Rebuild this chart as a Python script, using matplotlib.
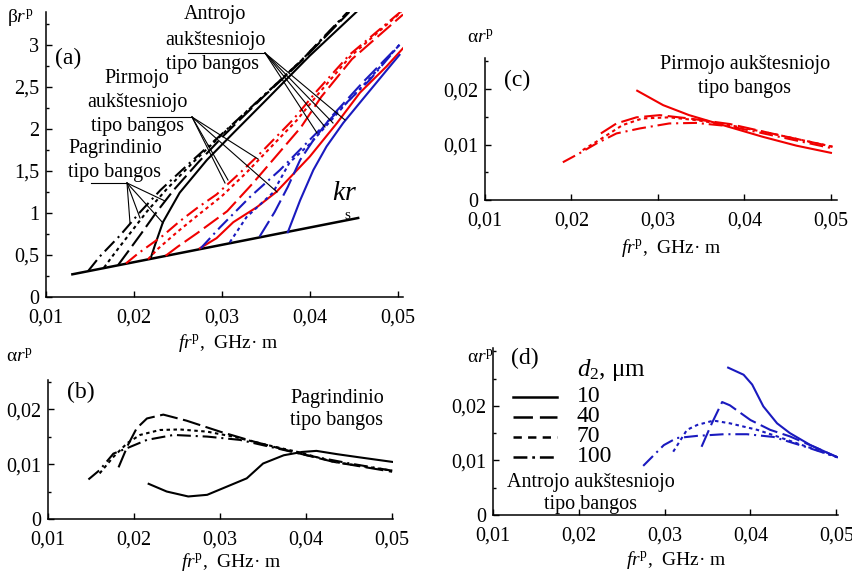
import numpy as np
import matplotlib
matplotlib.use('Agg')
import matplotlib.pyplot as plt
from matplotlib.ticker import FuncFormatter, MultipleLocator, FixedLocator
from matplotlib.lines import Line2D

plt.rcParams.update({
    'font.family': 'Liberation Serif',
    'mathtext.fontset': 'custom',
    'mathtext.rm': 'Liberation Serif',
    'mathtext.it': 'Liberation Serif:italic',
    'font.size': 14,
    'lines.scale_dashes': False,
    'axes.linewidth': 1.1,
})

BLACK = 'black'
RED = '#f00000'
BLUE = '#1a1abf'

# line styles per layer thickness d2 (um)
STYLES = {
    '10': '-',
    '40': (0, (13, 4)),
    '70': (0, (2.5, 2.5)),
    '100': (0, (10, 3.5, 1.5, 3.5)),
}

# ---------------- panel (a): dispersion, beta*r_p vs f*r_p ----------------
kr_x = [0.0130, 0.0455]
kr_y = [0.27, 0.94]

a_black = {
    '10': ([0.0219, 0.0224, 0.0233, 0.0252, 0.0283, 0.0313, 0.0351, 0.0400, 0.0453],
           [0.46, 0.62, 0.89, 1.24, 1.63, 1.95, 2.35, 2.87, 3.39]),
    '40': ([0.0182, 0.0194, 0.0208, 0.0225, 0.0245, 0.0273, 0.0303, 0.0347, 0.0392, 0.0445],
           [0.38, 0.55, 0.75, 1.00, 1.27, 1.60, 1.93, 2.38, 2.82, 3.39]),
    '70': ([0.0166, 0.0178, 0.0195, 0.0215, 0.0237, 0.0268, 0.0300, 0.0345, 0.0390, 0.0444],
           [0.35, 0.52, 0.75, 1.02, 1.28, 1.61, 1.93, 2.37, 2.81, 3.39]),
    '100': ([0.0148, 0.0161, 0.0184, 0.0207, 0.0230, 0.0264, 0.0298, 0.0343, 0.0389, 0.0443],
            [0.31, 0.48, 0.73, 1.01, 1.27, 1.60, 1.92, 2.35, 2.80, 3.39]),
}
a_red = {
    '10': ([0.0275, 0.0294, 0.0313, 0.0340, 0.0362, 0.0400, 0.0431, 0.0457, 0.0487, 0.0507],
           [0.58, 0.70, 0.89, 1.07, 1.25, 1.67, 2.07, 2.43, 2.74, 2.97]),
    '40': ([0.0236, 0.0250, 0.0272, 0.0306, 0.0335, 0.0358, 0.0390, 0.0413, 0.0448, 0.0506],
           [0.49, 0.60, 0.76, 1.02, 1.35, 1.63, 2.02, 2.38, 2.83, 3.36]),
    '70': ([0.0216, 0.0228, 0.0250, 0.0270, 0.0300, 0.0328, 0.0350, 0.0385, 0.0410, 0.0446, 0.0504],
           [0.45, 0.58, 0.78, 0.95, 1.20, 1.48, 1.72, 2.10, 2.42, 2.86, 3.39]),
    '100': ([0.0191, 0.0205, 0.0233, 0.0252, 0.0272, 0.0294, 0.0320, 0.0340, 0.0381, 0.0408, 0.0445, 0.0503],
            [0.40, 0.52, 0.73, 0.90, 1.06, 1.22, 1.47, 1.67, 2.11, 2.45, 2.88, 3.39]),
}
a_blue = {
    '10': ([0.0375, 0.0389, 0.0404, 0.0419, 0.0438, 0.0460, 0.0494, 0.0502],
           [0.77, 1.15, 1.51, 1.79, 2.07, 2.35, 2.78, 2.88]),
    '40': ([0.0343, 0.0360, 0.0375, 0.0389, 0.0405, 0.0425, 0.0460, 0.0502],
           [0.72, 1.01, 1.31, 1.63, 1.88, 2.15, 2.55, 3.00]),
    '70': ([0.0309, 0.0328, 0.0358, 0.0377, 0.0400, 0.0419, 0.0442, 0.0470, 0.0502],
           [0.65, 0.95, 1.24, 1.60, 1.82, 2.04, 2.31, 2.62, 3.00]),
    '100': ([0.0276, 0.0298, 0.0332, 0.0366, 0.0400, 0.0434, 0.0468, 0.0502],
            [0.58, 0.83, 1.19, 1.51, 1.87, 2.23, 2.58, 3.00]),
}

# ---------------- panel (b): attenuation, fundamental mode ----------------
b_curves = {
    '10': ([0.0217, 0.0238, 0.0263, 0.0285, 0.0308, 0.0331, 0.0350, 0.0374, 0.0395, 0.0412, 0.0436, 0.0463, 0.0500],
           [0.0064, 0.0050, 0.0041, 0.0044, 0.0059, 0.0074, 0.0101, 0.0116, 0.0122, 0.0124, 0.0118, 0.0112, 0.0104]),
    '40': ([0.0182, 0.0193, 0.0203, 0.0215, 0.0234, 0.0261, 0.0300, 0.0339, 0.0385, 0.0432, 0.0500],
           [0.0094, 0.0135, 0.0165, 0.0183, 0.0190, 0.0179, 0.0159, 0.0141, 0.0122, 0.0104, 0.0086]),
    '70': ([0.0160, 0.0176, 0.0192, 0.0207, 0.0230, 0.0253, 0.0285, 0.0315, 0.0354, 0.0393, 0.0432, 0.0500],
           [0.0083, 0.0113, 0.0138, 0.0153, 0.0162, 0.0163, 0.0159, 0.0150, 0.0135, 0.0121, 0.0104, 0.0088]),
    '100': ([0.0147, 0.0160, 0.0176, 0.0192, 0.0215, 0.0246, 0.0285, 0.0323, 0.0362, 0.0401, 0.0451, 0.0500],
            [0.0072, 0.0089, 0.0119, 0.0129, 0.0144, 0.0153, 0.0150, 0.0144, 0.0130, 0.0116, 0.0101, 0.0088]),
}

# ---------------- panel (c): attenuation, first higher mode ----------------
c_curves = {
    '10': ([0.0276, 0.0306, 0.0336, 0.0375, 0.0421, 0.0460, 0.0500],
           [0.0197, 0.0171, 0.0153, 0.0135, 0.0114, 0.0098, 0.0085]),
    '40': ([0.0234, 0.0252, 0.0275, 0.0302, 0.0336, 0.0383, 0.0440, 0.0502],
           [0.0120, 0.0138, 0.0149, 0.0153, 0.0147, 0.0137, 0.0117, 0.0096]),
    '70': ([0.0213, 0.0236, 0.0259, 0.0282, 0.0313, 0.0344, 0.0383, 0.0440, 0.0502],
           [0.0090, 0.0112, 0.0135, 0.0147, 0.0149, 0.0144, 0.0135, 0.0117, 0.0096]),
    '100': ([0.0190, 0.0209, 0.0229, 0.0252, 0.0279, 0.0313, 0.0344, 0.0383, 0.0440, 0.0502],
            [0.0068, 0.0084, 0.0102, 0.0120, 0.0129, 0.0138, 0.0139, 0.0133, 0.0114, 0.0093]),
}

# ---------------- panel (d): attenuation, second higher mode ----------------
d_curves = {
    '10': ([0.0374, 0.0392, 0.0402, 0.0415, 0.0431, 0.0446, 0.0470, 0.0501],
           [0.0270, 0.0257, 0.0239, 0.0199, 0.0168, 0.0150, 0.0128, 0.0106]),
    '40': ([0.0343, 0.0355, 0.0367, 0.0376, 0.0400, 0.0423, 0.0446, 0.0474, 0.0501],
           [0.0125, 0.0168, 0.0207, 0.0201, 0.0174, 0.0156, 0.0144, 0.0125, 0.0106]),
    '70': ([0.0310, 0.0326, 0.0338, 0.0357, 0.0376, 0.0408, 0.0431, 0.0466, 0.0501],
           [0.0116, 0.0156, 0.0165, 0.0173, 0.0168, 0.0156, 0.0144, 0.0125, 0.0106]),
    '100': ([0.0275, 0.0299, 0.0314, 0.0338, 0.0369, 0.0396, 0.0427, 0.0466, 0.0501],
            [0.0090, 0.0128, 0.0141, 0.0145, 0.0148, 0.0148, 0.0143, 0.0124, 0.0106]),
}

legend_labels = ['10', '40', '70', '100']
alpha_ticks = [0, 0.01, 0.02]

W, H = 853, 575
fig = plt.figure(figsize=(W / 100, H / 100), dpi=100)


def P(px, py):
    """pixel position -> figure fraction"""
    return px / W, 1 - py / H


def box(x0, y0, x1, y1):
    return [x0 / W, 1 - y1 / H, (x1 - x0) / W, (y1 - y0) / H]


def comma(v, pos):
    return f'{v:g}'.replace('.', ',')


def style_axes(ax, xlim, ylim, ymajor, yminor):
    ax.set_xlim(*xlim)
    ax.set_ylim(*ylim)
    for s in ('top', 'right'):
        ax.spines[s].set_visible(False)
    ax.xaxis.set_major_locator(MultipleLocator(0.01))
    if isinstance(ymajor, list):
        ax.yaxis.set_major_locator(FixedLocator(ymajor))
    else:
        ax.yaxis.set_major_locator(MultipleLocator(ymajor))
    ax.yaxis.set_minor_locator(MultipleLocator(yminor))
    ax.xaxis.set_major_formatter(FuncFormatter(comma))
    ax.yaxis.set_major_formatter(FuncFormatter(comma))
    ax.tick_params(which='major', direction='in', length=4, width=1, pad=5, labelsize=14.5)
    ax.tick_params(axis='x', which='major', pad=8)
    ax.tick_params(which='minor', direction='in', length=2.5, width=1)


def draw_group(ax, curves, color):
    for key in legend_labels:
        x, y = curves[key]
        ax.plot(x, y, color=color, lw=1.5, linestyle=STYLES[key])


xlabel = r'$fr^{\mathrm{p}}$,  GHz· m'
alabel = 'α$r^{\\mathrm{p}}$'

# ---- (a)
axa = fig.add_axes(box(46, 12, 403, 297))
style_axes(axa, (0.01, 0.0506), (0, 3.39), 0.5, 0.25)
axa.plot(kr_x, kr_y, color=BLACK, lw=1.8)
draw_group(axa, a_black, BLACK)
draw_group(axa, a_red, RED)
draw_group(axa, a_blue, BLUE)

# leader lines (pixel coordinates of underline ends and targets)
leaders = [
    ((91, 183), (127, 183), [(130, 223), (140, 218), (163, 223), (165, 201)]),
    ((147, 117), (192, 117), [(225, 183), (228, 180), (258, 159), (277, 192)]),
    ((188, 53), (265, 53), [(317, 133), (325, 127), (333, 123), (345, 120)]),
]
for (u0, u1, targets) in leaders:
    fig.add_artist(Line2D(*zip(P(*u0), P(*u1)), color='black', lw=0.8))
    for t in targets:
        fig.add_artist(Line2D(*zip(P(*u1), P(*t)), color='black', lw=0.8))

fig.text(*P(20, 18), 'β$r^{\\mathrm{p}}$', ha='center', va='center', fontsize=14)
fig.text(*P(68, 58), '(a)', ha='center', va='center', fontsize=17)
for txt, px, py in [('Antrojo', 215, 15), ('aukštesniojo', 215, 40), ('tipo bangos', 213, 64),
                    ('Pirmojo', 137, 79), ('aukštesniojo', 137, 103), ('tipo bangos', 138, 127),
                    ('Pagrindinio', 115, 148), ('tipo bangos', 115, 172)]:
    fig.text(*P(px, py), txt, ha='center', va='center', fontsize=14.5)
fig.text(*P(345, 193), '$kr$', ha='center', va='center', fontsize=20)
fig.text(*P(347, 216), 's', ha='center', va='center', fontsize=11)
fig.text(*P(228, 343), xlabel, ha='center', va='center', fontsize=14)

# ---- (b)
axb = fig.add_axes(box(48, 380, 393, 519))
style_axes(axb, (0.01, 0.0501), (0, 0.0253), alpha_ticks, 0.005)
draw_group(axb, b_curves, BLACK)
fig.text(*P(19, 356), alabel, ha='center', va='center', fontsize=14)
fig.text(*P(81, 392), '(b)', ha='center', va='center', fontsize=17)
fig.text(*P(337, 398), 'Pagrindinio', ha='center', va='center', fontsize=14.5)
fig.text(*P(337, 420), 'tipo bangos', ha='center', va='center', fontsize=14.5)
fig.text(*P(231, 562), xlabel, ha='center', va='center', fontsize=14)

# ---- (c)
axc = fig.add_axes(box(485, 58, 837, 200))
style_axes(axc, (0.01, 0.0507), (0, 0.0256), alpha_ticks, 0.005)
draw_group(axc, c_curves, RED)
fig.text(*P(480, 37), alabel, ha='center', va='center', fontsize=14)
fig.text(*P(517, 80), '(c)', ha='center', va='center', fontsize=17)
fig.text(*P(745, 64), 'Pirmojo aukštesniojo', ha='center', va='center', fontsize=14.5)
fig.text(*P(745, 88), 'tipo bangos', ha='center', va='center', fontsize=14.5)
fig.text(*P(671, 248), xlabel, ha='center', va='center', fontsize=14)

# ---- (d)
axd = fig.add_axes(box(493, 348, 838, 515))
style_axes(axd, (0.01, 0.0502), (0, 0.0306), alpha_ticks, 0.005)
draw_group(axd, d_curves, BLUE)
fig.text(*P(480, 357), alabel, ha='center', va='center', fontsize=14)
fig.text(*P(525, 358), '(d)', ha='center', va='center', fontsize=17)
fig.text(*P(577, 370), r'$d_2$, μm', ha='left', va='center', fontsize=18)
leg_styles = {'10': '-', '40': (0, (14, 5)), '70': (0, (6, 4.5)), '100': (0, (10, 3.5, 2, 3.5))}
for i, lab in enumerate(legend_labels):
    yy = 397 + i * 20
    x0, y0 = P(513, yy)
    x1, _ = P(557, yy)
    fig.add_artist(Line2D([x0, x1], [y0, y0], color='black', lw=1.8, linestyle=leg_styles[lab]))
    fig.text(*P(577, yy), lab, ha='left', va='center', fontsize=17)
fig.text(*P(591, 482), 'Antrojo aukštesniojo', ha='center', va='center', fontsize=14.5)
fig.text(*P(591, 505), 'tipo bangos', ha='center', va='center', fontsize=14.5)
fig.text(*P(676, 560), xlabel, ha='center', va='center', fontsize=14)

fig.savefig('out.png', dpi=100)
